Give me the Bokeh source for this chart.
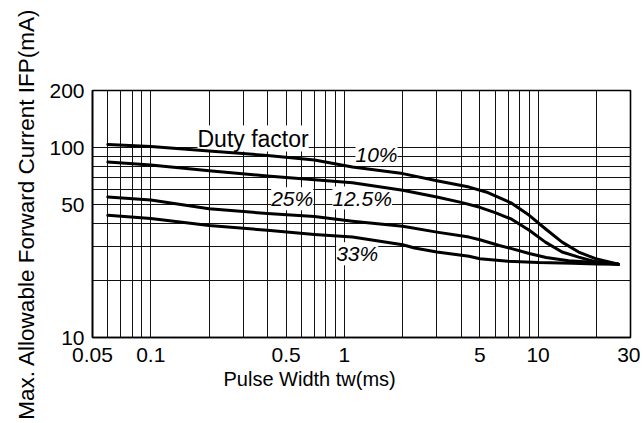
import numpy as np
from bokeh.plotting import figure
from bokeh.models import FixedTicker, Label, Range1d, CustomJSTickFormatter, Title
from bokeh.embed import file_html
from bokeh.resources import INLINE

# ---------------- data ----------------
x_min, x_max = 0.05, 30
y_min, y_max = 10, 200

x_ticks = [0.05, 0.1, 0.5, 1, 5, 10, 30]
x_tick_labels = ["0.05", "0.1", "0.5", "1", "5", "10", "30"]
x_grid = [0.06, 0.07, 0.08, 0.09, 0.2, 0.3, 0.4, 0.6, 0.7, 0.8, 0.9,
          2, 3, 4, 6, 7, 8, 9, 20]

y_ticks = [10, 50, 100, 200]
y_tick_labels = ["10", "50", "100", "200"]
y_grid = [20, 30, 40, 60, 70, 80, 90]

duty10_x = [0.06, 0.1, 0.2, 0.4, 0.7, 1.1, 2.0, 3.0, 4.4, 5.5, 7.3, 9.0, 10.9, 13.3, 16.2, 19.8, 26]
duty10_y = [104, 101.5, 96, 91, 86, 79, 73, 67, 62, 58, 51, 44, 37.4, 31.8, 28.2, 26.0, 24.3]

duty125_x = [0.06, 0.1, 0.2, 0.4, 0.7, 1.1, 2.0, 3.0, 4.0, 5.0, 6.0, 7.3, 9.0, 10.9, 13.3, 16.2, 20, 26]
duty125_y = [84, 81, 75.5, 71, 67.8, 65.3, 59.6, 55, 51.5, 48.5, 45.5, 42, 36.7, 31.8, 28.2, 26.5, 25.0, 24.3]

duty25_x = [0.06, 0.1, 0.2, 0.4, 0.7, 1.1, 2.0, 3.0, 4.4, 5.0, 6.3, 7.3, 9.0, 11, 14.4, 20, 26]
duty25_y = [55, 53, 47.7, 45, 43.4, 41, 38.5, 35.9, 33.8, 32.7, 30.5, 29.4, 27.7, 26.4, 25.4, 24.8, 24.3]

duty33_x = [0.06, 0.1, 0.2, 0.4, 0.7, 1.1, 2.0, 2.3, 3.0, 4.4, 5.0, 7.0, 10, 15, 20, 26]
duty33_y = [44, 42.3, 38.9, 36.7, 34.9, 33.8, 30.8, 29.6, 28.2, 26.8, 26.0, 25.2, 24.8, 24.6, 24.4, 24.3]

x_title = "Pulse Width tw(ms)"
y_title = "Max. Allowable Forward Current IFP(mA)"

# ---------------- layout ----------------
FRAME_L, FRAME_T = 92, 90          # canvas coords of the plot frame
FRAME_W, FRAME_H = 538, 247
W, H = 640, 420

def x_at(px):
    return 10 ** (np.log10(x_min) + (px - FRAME_L) / FRAME_W * np.log10(x_max / x_min))

def y_at(py):
    return 10 ** (np.log10(y_max) - (py - FRAME_T) / FRAME_H * np.log10(y_max / y_min))

FONT = "Liberation Sans"

p = figure(width=W, height=H, x_axis_type="log", y_axis_type="log",
           x_range=Range1d(x_min, x_max), y_range=Range1d(y_min, y_max),
           output_backend="svg", toolbar_location=None,
           min_border_left=FRAME_L, min_border_top=FRAME_T,
           min_border_right=W - FRAME_L - FRAME_W,
           min_border_bottom=H - FRAME_T - FRAME_H)

p.background_fill_color = "white"
p.border_fill_color = "white"
p.outline_line_color = "black"
p.outline_line_width = 1.6

xt = FixedTicker(ticks=x_ticks, minor_ticks=x_grid)
yt = FixedTicker(ticks=y_ticks, minor_ticks=y_grid)
p.xaxis.ticker = xt
p.yaxis.ticker = yt
p.xgrid.ticker = xt
p.ygrid.ticker = yt

fmt_code = """
const i = tvals.findIndex(t => Math.abs(t - tick) < 1e-9 * Math.max(1, Math.abs(t)));
return i >= 0 ? tlabels[i] : '';
"""
p.xaxis.formatter = CustomJSTickFormatter(args=dict(tvals=x_ticks, tlabels=x_tick_labels), code=fmt_code)
p.yaxis.formatter = CustomJSTickFormatter(args=dict(tvals=y_ticks, tlabels=y_tick_labels), code=fmt_code)

for ax in (p.xaxis, p.yaxis):
    ax.major_tick_out = 0
    ax.major_tick_in = 0
    ax.minor_tick_out = 0
    ax.minor_tick_in = 0
    ax.axis_line_color = "black"
    ax.axis_line_width = 1.6
    ax.major_label_text_font = FONT
    ax.major_label_text_font_size = "21px"
    ax.major_label_text_color = "black"
p.xaxis.major_label_standoff = 10
p.yaxis.major_label_standoff = 8

p.yaxis.axis_label = y_title
p.yaxis.axis_label_text_font = FONT
p.yaxis.axis_label_text_font_size = "22.5px"
p.yaxis.axis_label_text_font_style = "normal"
p.yaxis.axis_label_text_color = "black"
p.yaxis.axis_label_standoff = 7

p.add_layout(Title(text=x_title, align="left", offset=223 - FRAME_L,
                   text_font=FONT, text_font_size="20px", text_font_style="normal",
                   text_color="black", standoff=3), "below")

for g in (p.xgrid, p.ygrid):
    g.grid_line_color = "#111111"
    g.grid_line_width = 1
    g.grid_line_alpha = 1
    g.minor_grid_line_color = "#111111"
    g.minor_grid_line_width = 1
    g.minor_grid_line_alpha = 1

# curves (drawn above the label backgrounds)
for xs, ys in ((duty10_x, duty10_y), (duty125_x, duty125_y),
               (duty25_x, duty25_y), (duty33_x, duty33_y)):
    p.line(xs, ys, line_color="black", line_width=3, line_join="round",
           line_cap="round", level="overlay")

# in-plot labels
def add_label(text, px, py, size, style="normal", align="center", baseline="middle"):
    p.add_layout(Label(x=x_at(px), y=y_at(py), text=text, text_font=FONT,
                       text_font_size=size, text_font_style=style,
                       text_align=align, text_baseline=baseline, text_color="black",
                       background_fill_color="white"))

add_label("Duty factor", 197, 138, "23px", align="left")
add_label("10%", 376, 154, "21px", style="italic")
add_label("12.5%", 361.7, 197.5, "21px", style="italic")
add_label("25%", 291.7, 198.3, "21px", style="italic")
add_label("33%", 356.7, 253.3, "21px", style="italic")

open("out.html", "w").write(file_html(p, INLINE))
